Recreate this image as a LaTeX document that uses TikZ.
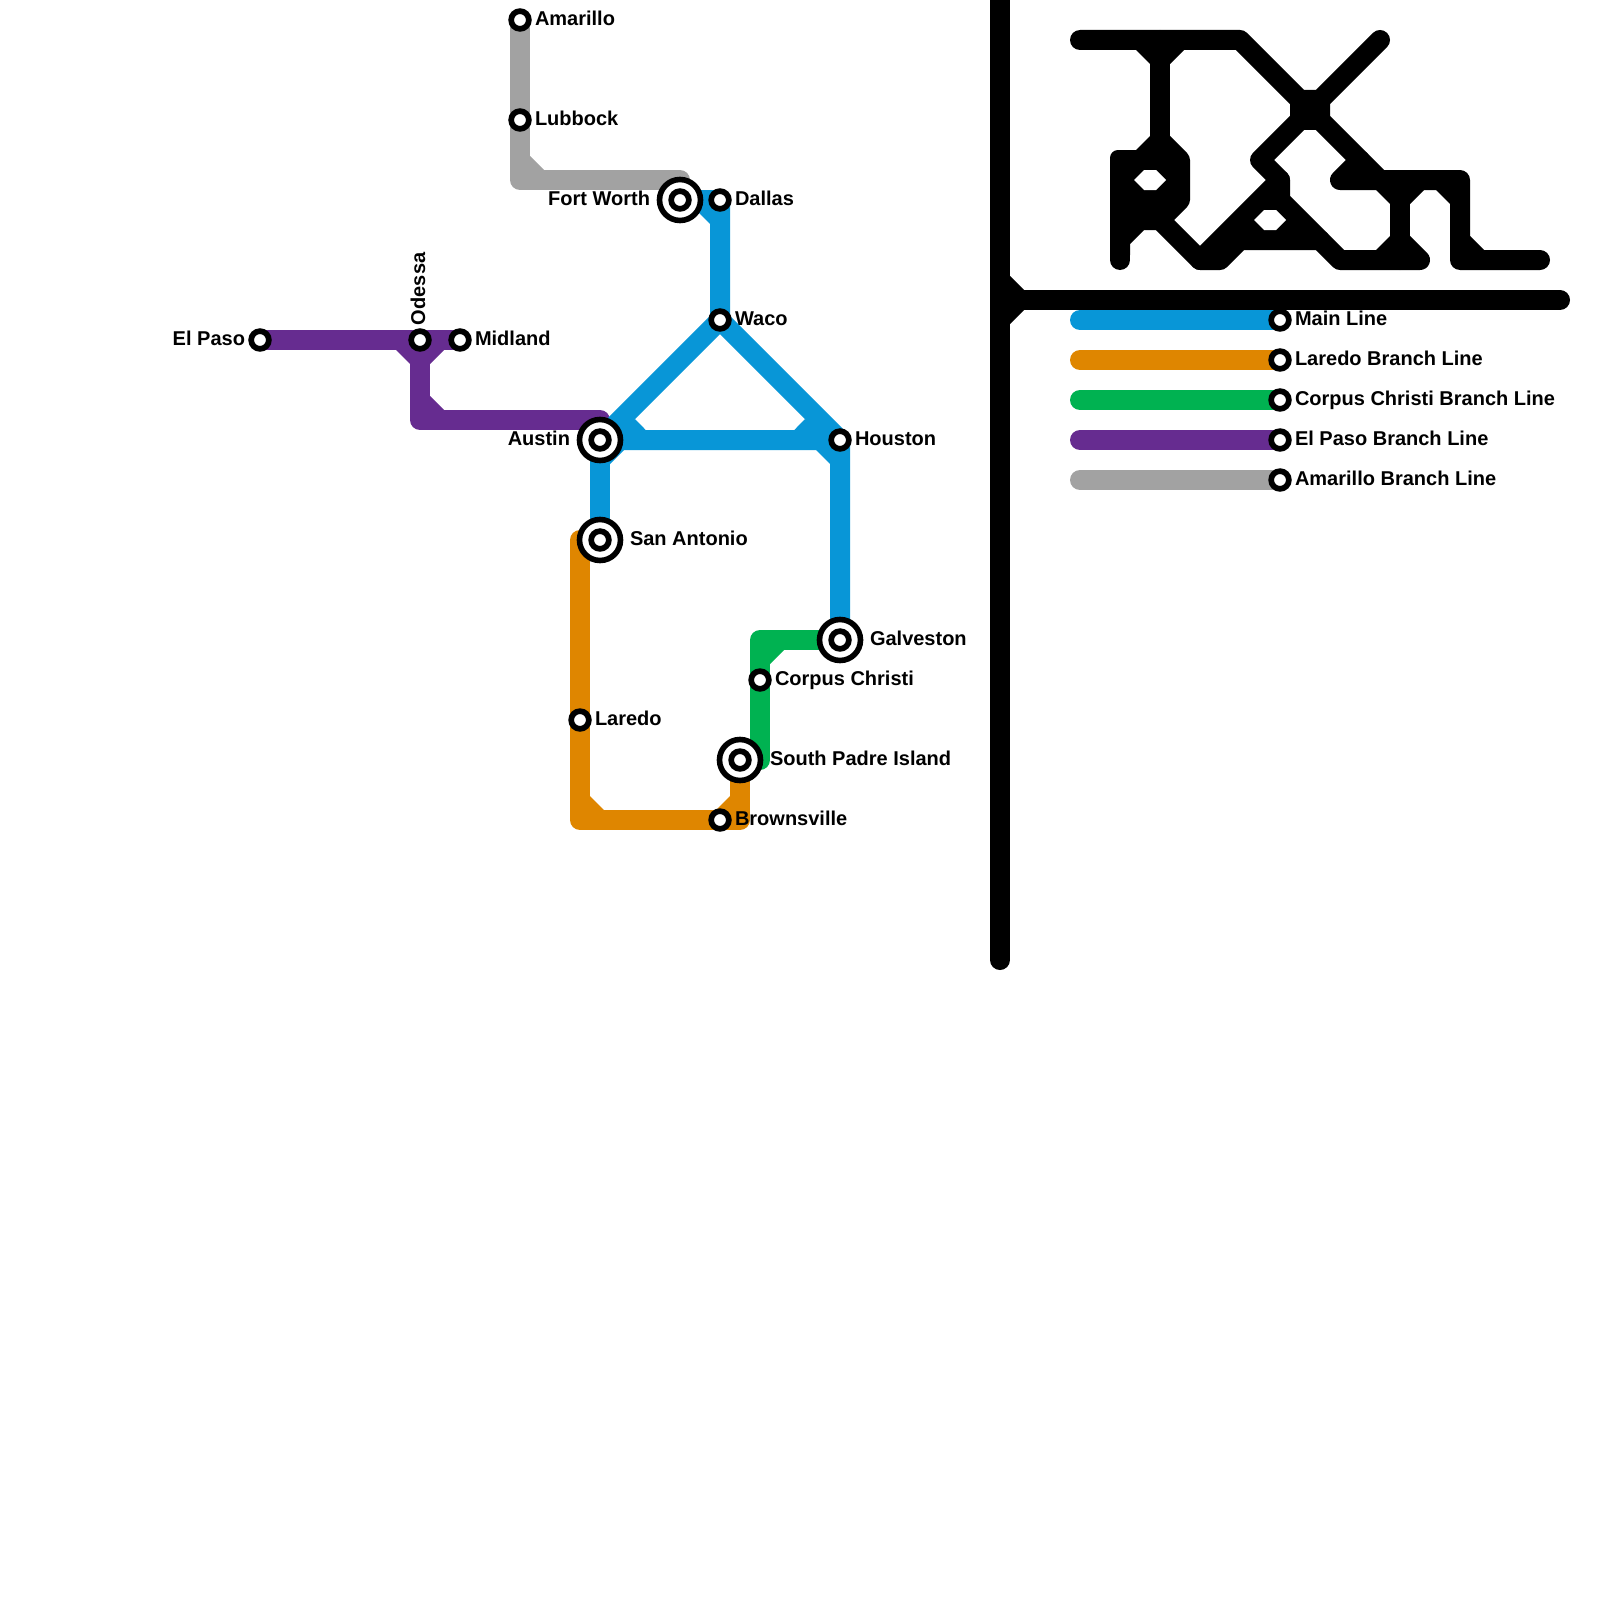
\documentclass[tikz,border=0pt]{standalone}
\usepackage{fontspec}
\setmainfont{Liberation Sans}
\usetikzlibrary{backgrounds}
\definecolor{mainblue}{HTML}{0896D7}
\definecolor{branchorange}{HTML}{DF8600}
\definecolor{branchgreen}{HTML}{00B251}
\definecolor{branchpurple}{HTML}{662C90}
\definecolor{branchgrey}{HTML}{A2A2A2}
\newcommand\chamf[4]{\fill[#1] #2 -- #3 -- #4 -- cycle;}
\tikzset{
  stn/.style={circle,draw=black,line width=2.85pt,fill=white,minimum size=8.85pt,inner sep=0pt,outer sep=0pt},
  bigstn/.style={circle,draw=black,line width=2.8pt,fill=white,minimum size=20.5pt,inner sep=0pt,outer sep=0pt},
  route/.style={line width=10pt,line cap=round,line join=round},
  lab/.style={font=\fontsize{10}{12}\selectfont\bfseries,inner sep=0pt,outer sep=0pt,text=black},
  labr/.style={lab,anchor=base west},
  labl/.style={lab,anchor=base east},
}
\begin{document}
\begin{tikzpicture}[x=0.5pt,y=-0.5pt]
\useasboundingbox (0,0) rectangle (1600,1600);
% stations
\node[stn] (amarillo) at (520,20) {};
\node[stn] (lubbock) at (520,120) {};
\node[bigstn] (fortworth) at (680,200) {};
\node[stn] (fortworthi) at (680,200) {};
\node[stn] (dallas) at (720,200) {};
\node[stn] (waco) at (720,320) {};
\node[stn] (elpaso) at (260,340) {};
\node[stn] (odessa) at (420,340) {};
\node[stn] (midland) at (460,340) {};
\node[bigstn] (austin) at (600,440) {};
\node[stn] (austini) at (600,440) {};
\node[stn] (houston) at (840,440) {};
\node[bigstn] (sanantonio) at (600,540) {};
\node[stn] (sanantonioi) at (600,540) {};
\node[bigstn] (galveston) at (840,640) {};
\node[stn] (galvestoni) at (840,640) {};
\node[stn] (corpus) at (760,680) {};
\node[stn] (laredo) at (580,720) {};
\node[bigstn] (padre) at (740,760) {};
\node[stn] (padrei) at (740,760) {};
\node[stn] (brownsville) at (720,820) {};
\node[stn] (lgmain) at (1280,320) {};
\node[stn] (lglaredo) at (1280,360) {};
\node[stn] (lgcorpus) at (1280,400) {};
\node[stn] (lgelpaso) at (1280,440) {};
\node[stn] (lgamarillo) at (1280,480) {};
% labels
\node[labr] (tamarillo) at ([shift={(15,5.5)}]amarillo.center) {Amarillo};
\node[labr] (tlubbock) at ([shift={(15,5.5)}]lubbock.center) {Lubbock};
\node[labl] (tfortworth) at ([shift={(-30,5.5)}]fortworth.center) {Fort Worth};
\node[labr] (tdallas) at ([shift={(15,5.5)}]dallas.center) {Dallas};
\node[labr] (twaco) at ([shift={(15,5.5)}]waco.center) {Waco};
\node[labl] (telpaso) at ([shift={(-15,5.5)}]elpaso.center) {El Paso};
\node[lab,anchor=base west,rotate=90] (todessa) at ([shift={(5,-15)}]odessa.center) {Odessa};
\node[labr] (tmidland) at ([shift={(15,5.5)}]midland.center) {Midland};
\node[labl] (taustin) at ([shift={(-30,5.5)}]austin.center) {Austin};
\node[labr] (thouston) at ([shift={(15,5.5)}]houston.center) {Houston};
\node[labr] (tsanantonio) at ([shift={(30,5.5)}]sanantonio.center) {San Antonio};
\node[labr] (tgalveston) at ([shift={(30,5.5)}]galveston.center) {Galveston};
\node[labr] (tcorpus) at ([shift={(15,5.5)}]corpus.center) {Corpus Christi};
\node[labr] (tlaredo) at ([shift={(15,5.5)}]laredo.center) {Laredo};
\node[labr] (tpadre) at ([shift={(30,5.5)}]padre.center) {South Padre Island};
\node[labr] (tbrownsville) at ([shift={(15,5.5)}]brownsville.center) {Brownsville};
\node[labr] (tlgmain) at ([shift={(15,5.5)}]lgmain.center) {Main Line};
\node[labr] (tlglaredo) at ([shift={(15,5.5)}]lglaredo.center) {Laredo Branch Line};
\node[labr] (tlgcorpus) at ([shift={(15,5.5)}]lgcorpus.center) {Corpus Christi Branch Line};
\node[labr] (tlgelpaso) at ([shift={(15,5.5)}]lgelpaso.center) {El Paso Branch Line};
\node[labr] (tlgamarillo) at ([shift={(15,5.5)}]lgamarillo.center) {Amarillo Branch Line};
\begin{scope}[on background layer]
% grey
\draw[route,branchgrey] (amarillo.center) -- (lubbock.center) -- (520,180) -- (680,180) -- (fortworth.center);
\chamf{branchgrey}{(520,180)}{(530,156)}{(544,170)}
% purple
\draw[route,branchpurple] (elpaso.center) -- (odessa.center) -- (midland.center);
\draw[route,branchpurple] (odessa.center) -- (420,420) -- (600,420) -- (austin.center);
\chamf{branchpurple}{(420,340)}{(396,350)}{(410,364)}
\chamf{branchpurple}{(420,340)}{(444,350)}{(430,364)}
\chamf{branchpurple}{(420,420)}{(430,396)}{(444,410)}
% orange
\draw[route,branchorange] (sanantonio.center) -- (580,540) -- (laredo.center) -- (580,820) -- (brownsville.center) -- (740,820) -- (padre.center);
\chamf{branchorange}{(580,820)}{(590,796)}{(604,810)}
\chamf{branchorange}{(740,820)}{(716,810)}{(730,796)}
% green
\draw[route,branchgreen] (galveston.center) -- (760,640) -- (corpus.center) -- (760,760) -- (padre.center);
\chamf{branchgreen}{(760,640)}{(784,650)}{(770,664)}
% blue
\draw[route,mainblue] (fortworth.center) -- (dallas.center) -- (waco.center) -- (houston.center) -- (galveston.center);
\draw[route,mainblue] (waco.center) -- (austin.center) -- (houston.center);
\draw[route,mainblue] (austin.center) -- (sanantonio.center);
\chamf{mainblue}{(720,200)}{(696,210)}{(710,224)}
\chamf{mainblue}{(600,440)}{(635,419)}{(645.7,430)}
\chamf{mainblue}{(840,440)}{(805,419)}{(794.3,430)}
\chamf{mainblue}{(840,440)}{(816,450)}{(830,464)}
\chamf{mainblue}{(600,440)}{(624,450)}{(610,464)}
% legend lines
\draw[route,mainblue] (1080,320) -- (lgmain.center);
\draw[route,branchorange] (1080,360) -- (lglaredo.center);
\draw[route,branchgreen] (1080,400) -- (lgcorpus.center);
\draw[route,branchpurple] (1080,440) -- (lgelpaso.center);
\draw[route,branchgrey] (1080,480) -- (lgamarillo.center);
% black divider
\draw[route,black] (1000,-20) -- (1000,960);
\draw[route,black] (1000,300) -- (1560,300);
\chamf{black}{(1000,300)}{(1010,276)}{(1024,290)}
\chamf{black}{(1000,300)}{(1024,310)}{(1010,324)}
% black glyph: top and vertical
\draw[route,black] (1080,40) -- (1240,40) -- (1310,110) -- (1380,180);
\draw[route,black] (1380,40) -- (1310,110) -- (1260,160) -- (1280,180) -- (1280,200) -- (1340,260) -- (1420,260) -- (1400,240);
\draw[route,black] (1160,40) -- (1160,140);
\chamf{black}{(1160,40)}{(1136,50)}{(1150,64)}
\chamf{black}{(1160,40)}{(1184,50)}{(1170,64)}
\fill[black] (1304,90) -- (1316,90) -- (1330,104) -- (1330,116) -- (1316,130) -- (1304,130) -- (1290,116) -- (1290,104) -- cycle;
% black glyph: left blob
\fill[black] (1130,255) -- (1110,255) [rounded corners=4pt] -- (1110,150) [sharp corners] -- (1136,150) -- (1150,136) -- (1170,136) [rounded corners=2pt] -- (1190,156) -- (1190,204) [sharp corners] -- (1174,220) -- (1160,230) -- (1144,230) -- (1130,244) -- cycle;
\draw[route,black] (1120,160) -- (1120,260);
\draw[route,black] (1160,220) -- (1200,260) -- (1220,260) -- (1240,240) -- (1320,240);
\draw[route,black] (1200,260) -- (1280,180);
\fill[black] (1280,180) -- (1200,260) -- (1220,260) -- (1240,240) -- (1320,240) -- (1280,200) -- cycle;
\fill[white] (1134,180) -- (1144,170) -- (1156,170) -- (1166,180) -- (1156,190) -- (1144,190) -- cycle;
\fill[white] (1254,220) -- (1264,210) -- (1276,210) -- (1286,220) -- (1276,230) -- (1264,230) -- cycle;
% black glyph: right part
\draw[route,black] (1360,160) -- (1340,180) -- (1460,180) -- (1460,260) -- (1540,260);
\draw[route,black] (1400,180) -- (1400,260);
\chamf{black}{(1400,180)}{(1376,190)}{(1390,204)}
\chamf{black}{(1400,180)}{(1424,190)}{(1410,204)}
\chamf{black}{(1460,180)}{(1436,190)}{(1450,204)}
\chamf{black}{(1400,260)}{(1390,236)}{(1376,250)}
\chamf{black}{(1460,260)}{(1470,236)}{(1484,250)}
\end{scope}
\end{tikzpicture}
\end{document}
